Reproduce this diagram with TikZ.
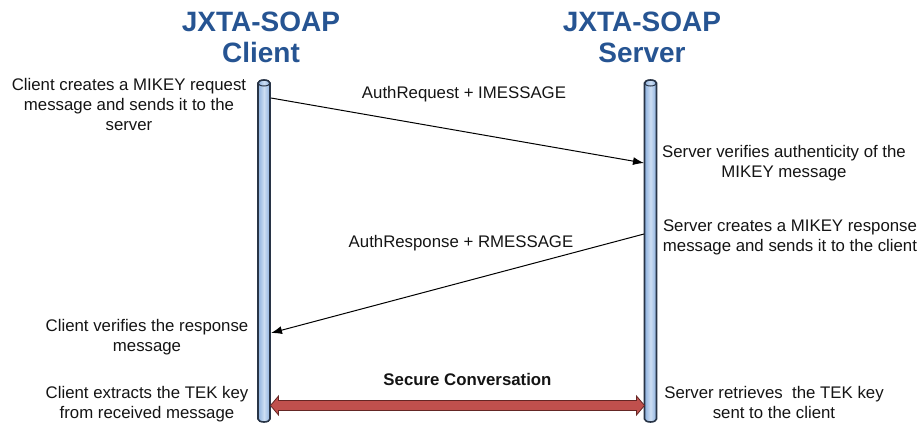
\documentclass[tikz,border=0pt]{standalone}
\usepackage{fontspec}
\setmainfont{Liberation Sans}
\usetikzlibrary{arrows.meta,calc}
\definecolor{titleblue}{RGB}{38,84,146}
\definecolor{cylfill}{RGB}{140,176,222}
\definecolor{cyllight}{RGB}{205,222,243}
\definecolor{cylline}{RGB}{40,52,70}
\definecolor{convred}{RGB}{192,80,77}
\definecolor{convline}{RGB}{100,38,36}
\definecolor{txt}{RGB}{20,20,20}
\begin{document}
\begin{tikzpicture}[x=1pt,y=-1pt,
  title/.style={font=\fontsize{28}{31}\selectfont\bfseries, text=titleblue, align=center, inner sep=0pt},
  note/.style={font=\fontsize{16.8}{20}\selectfont, align=center, inner sep=0pt, text=txt},
  msglabel/.style={font=\fontsize{16.8}{20}\selectfont, inner sep=0pt, text=txt, anchor=base},
  msg/.style={draw=black, line width=1pt, -{Latex[length=11pt,width=8pt]}},
  lifeline/.style={draw=cylline, line width=1.6pt, left color=cylfill, right color=cylfill, middle color=cyllight},
  rim/.style={draw=cylline, line width=1pt},
  conv/.style={fill=convred, draw=convline, line width=0.8pt, line join=miter}
]
\useasboundingbox (0,0) rectangle (921,423);

% lifelines
\coordinate (ctop) at (264,83);
\coordinate (cbot) at (264,419);
\coordinate (stop) at (650.5,83);
\coordinate (sbot) at (650.5,419);
\path[lifeline] ($(ctop)+(-6,0)$) -- ($(cbot)+(-6,0)$) arc[start angle=180,end angle=0,x radius=6,y radius=3] -- ($(ctop)+(6,0)$) arc[start angle=360,end angle=180,x radius=6,y radius=3] -- cycle;
\draw[rim] (ctop) ellipse[x radius=6,y radius=3];
\path[lifeline] ($(stop)+(-6,0)$) -- ($(sbot)+(-6,0)$) arc[start angle=180,end angle=0,x radius=6,y radius=3] -- ($(stop)+(6,0)$) arc[start angle=360,end angle=180,x radius=6,y radius=3] -- cycle;
\draw[rim] (stop) ellipse[x radius=6,y radius=3];

% titles
\node[title] (tc) at (261,37) {JXTA-SOAP\\Client};
\node[title] (ts) at (642,37) {JXTA-SOAP\\Server};

% notes
\node[note] (n1) at (129,104) {Client creates a MIKEY request\\message and sends it to the\\server};
\node[note] (n2) at (147,337.6) {Client verifies the response\\message};
\node[note] (n3) at (147,404) {Client extracts the TEK key\\from received message};
\node[note] (n4) at (784,163.6) {Server verifies authenticity of the\\MIKEY message};
\node[note] (n5) at (790,237.6) {Server creates a MIKEY response\\message and sends it to the client};
\node[note] (n6) at (774,402.5) {Server retrieves~ the TEK key\\sent to the client};

% messages
\coordinate (c1) at (271,98);
\coordinate (s1) at (644,163);
\coordinate (s2) at (644,234);
\coordinate (c2) at (271,333);
\draw[msg] (c1) -- (s1);
\draw[msg] (s2) -- (c2);
\node[msglabel] (l1) at (464,98) {AuthRequest + IMESSAGE};
\node[msglabel] (l2) at (461,247) {AuthResponse + RMESSAGE};

% secure conversation
\coordinate (c3) at (270.5,405.5);
\coordinate (s3) at (644.5,405.5);
\path[conv] (c3) -- ($(c3)+(8,-9.5)$) -- ($(c3)+(8,-5)$) -- ($(s3)+(-8,-5)$) -- ($(s3)+(-8,-9.5)$) -- (s3) -- ($(s3)+(-8,9.5)$) -- ($(s3)+(-8,5)$) -- ($(c3)+(8,5)$) -- ($(c3)+(8,9.5)$) -- cycle;
\node[msglabel, font=\fontsize{16.8}{20}\selectfont\bfseries] (l3) at (467.5,385) {Secure Conversation};
\end{tikzpicture}
\end{document}
